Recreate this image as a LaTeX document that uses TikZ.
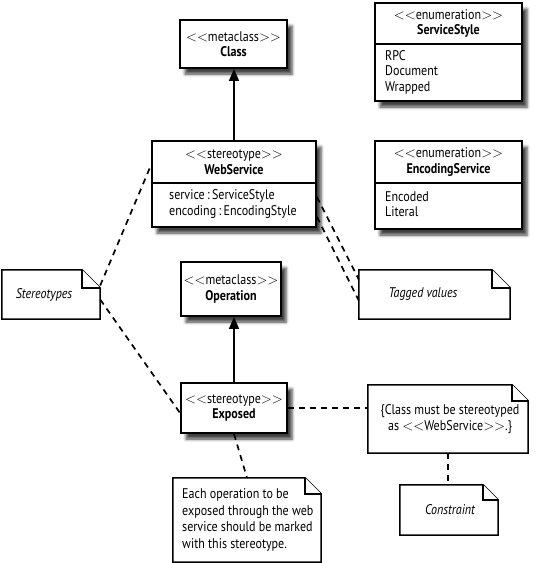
\documentclass[tikz,border=0pt]{standalone}
\usepackage{fontspec}
\setmainfont{PT Sans}[FakeStretch=0.86, Ligatures=TeXOff]
\usetikzlibrary{arrows.meta,shadows.blur,calc}
\newcommand\lt{$<$}
\newcommand\gt{$>$}
\newcommand\drawnote[2]{%
  \draw[noteline] (#1.north west) -- ([xshift=-#2]#1.north east) -- ([yshift=-#2]#1.north east) -- (#1.south east) -- (#1.south west) -- cycle;
  \draw[noteline] ([xshift=-#2]#1.north east) |- ([yshift=-#2]#1.north east);}
\begin{document}
\begin{tikzpicture}[x=1pt,y=-1pt,
  txt/.style={inner sep=0pt, font=\fontsize{14}{15.5}\selectfont},
  cbox/.style={draw, line width=1.9pt, fill=white, inner sep=0pt, align=center,
    font=\fontsize{14}{15.5}\selectfont,
    blur shadow={shadow xshift=5pt, shadow yshift=-6pt, shadow blur radius=3pt, shadow opacity=75}},
  nbox/.style={inner sep=0pt},
  noteline/.style={line width=1.5pt, fill=white},
  dline/.style={line width=1.7pt, dash pattern=on 6pt off 5pt},
  gen/.style={line width=1.7pt, -{Triangle[length=12pt,width=10pt]}}]
\useasboundingbox (0,0) rectangle (535,563);

% class boxes
\node[cbox, minimum width=107pt, minimum height=48pt] (cls) at (233.5,44) {\lt\lt metaclass\gt\gt\\\textbf{Class}};
\node[cbox, minimum width=147pt, minimum height=98pt] (ss) at (448.5,52) {};
\draw[line width=1.5pt] (ss.west |- 0,44) -- (ss.east |- 0,44);
\node[txt, align=center] (ssT) at (448.5,23.5) {\lt\lt enumeration\gt\gt\\\textbf{ServiceStyle}};
\node[txt, align=left, anchor=west] (ssA) at (385,72) {RPC\\Document\\Wrapped};

\node[cbox, minimum width=164pt, minimum height=86pt] (ws) at (234,184) {};
\draw[line width=1.5pt] (ws.west |- 0,183) -- (ws.east |- 0,183);
\node[txt, align=center] (wsT) at (234,162) {\lt\lt stereotype\gt\gt\\\textbf{WebService}};
\node[txt, align=left, anchor=west] (wsA) at (169,204) {service\,:\,ServiceStyle\\encoding\,:\,EncodingStyle};

\node[cbox, minimum width=147pt, minimum height=88pt] (es) at (448.5,185) {};
\draw[line width=1.5pt] (es.west |- 0,183) -- (es.east |- 0,183);
\node[txt, align=center] (esT) at (448.5,162) {\lt\lt enumeration\gt\gt\\\textbf{EncodingService}};
\node[txt, align=left, anchor=west] (esA) at (385,204) {Encoded\\Literal};

\node[cbox, minimum width=100pt, minimum height=54pt] (op) at (231,289) {\lt\lt metaclass\gt\gt\\\textbf{Operation}};
\node[cbox, minimum width=106pt, minimum height=50pt] (ex) at (234,408) {\lt\lt stereotype\gt\gt\\\textbf{Exposed}};

% notes
\node[nbox, minimum width=98pt, minimum height=49pt] (stn) at (51,294.5) {};
\drawnote{stn}{18pt}
\node[txt] (stnT) at (44,294.5) {\itshape Stereotypes};

\node[nbox, minimum width=151pt, minimum height=49pt] (tv) at (434.5,294.5) {};
\drawnote{tv}{18pt}
\node[txt] (tvT) at (423,294.5) {\itshape Tagged values};

\node[nbox, minimum width=160pt, minimum height=68pt] (cn) at (448,419) {};
\drawnote{cn}{16pt}
\node[txt, align=center] (cnT) at (450,419) {\{Class must be stereotyped\\as \lt\lt WebService\gt\gt.\}};

\node[nbox, minimum width=98pt, minimum height=50pt] (cs) at (449,510) {};
\drawnote{cs}{15pt}
\node[txt] (csT) at (450,510) {\itshape Constraint};

\node[nbox, minimum width=148pt, minimum height=84pt] (eo) at (247,520) {};
\drawnote{eo}{16pt}
\node[txt, align=left, anchor=west, font=\fontsize{14}{16.5}\selectfont] (eoT) at (182,520) {Each operation to be\\exposed through the web\\service should be marked\\with this stereotype.};

% generalizations
\draw[gen] (ws.north) -- (ws.north |- cls.south);
\draw[gen] (ex.north) -- (ex.north |- op.south);

% dashed connectors
\draw[dline] ([yshift=9pt]stn.east) -- ([yshift=19pt]ws.west);
\draw[dline] ([yshift=-5pt]stn.east) -- ([yshift=-5pt]ex.west);
\draw[dline] ([yshift=-13pt]ws.east) -- ([yshift=15pt]tv.west);
\draw[dline] ([yshift=-33pt]ws.east) -- ([yshift=-6pt]tv.west);
\draw[dline] (ex.east) -- (ex.east -| cn.west);
\draw[dline] (cn.south) -- (cn.south |- cs.north);
\draw[dline] (ex.south) -- (eo.north);
\end{tikzpicture}
\end{document}
